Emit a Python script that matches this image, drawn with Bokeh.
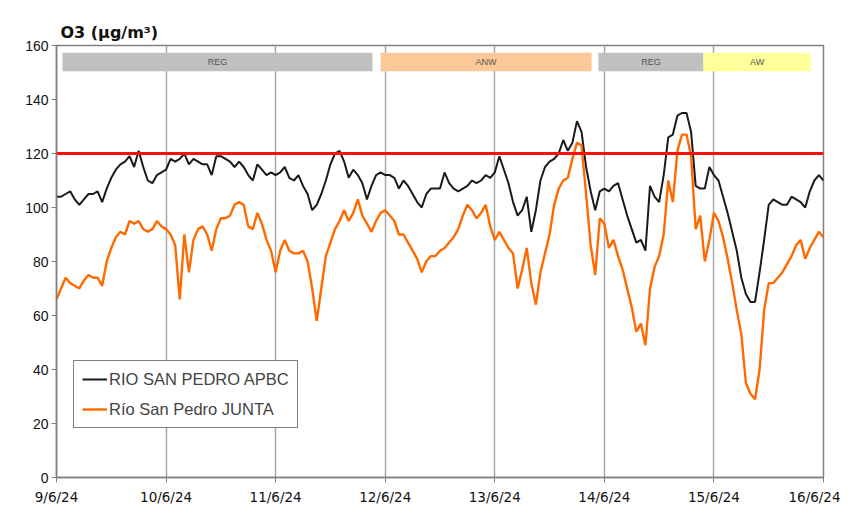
import numpy as np
from bokeh.plotting import figure
from bokeh.models import (Range1d, Span, Legend, LegendItem, FixedTicker, ColumnDataSource)
from bokeh.core.properties import value
from bokeh.embed import file_html
from bokeh.resources import INLINE

# ---------------- data (hourly, 9/6/24 00:00 -> 16/6/24 00:00) ----------------
day_labels = ["9/6/24", "10/6/24", "11/6/24", "12/6/24", "13/6/24", "14/6/24", "15/6/24", "16/6/24"]

apbc = [
    104, 104, 105, 106, 103, 101, 103, 105, 105, 106, 102, 107, 111, 114, 116, 117, 119, 115, 121, 115, 110, 109, 112, 113,
    114, 118, 117, 118, 120, 116, 118, 117, 116, 116, 112, 119, 119, 118, 117, 115, 117, 115, 112, 110, 116, 114, 112, 113,
    112, 113, 115, 111, 110, 112, 108, 105, 99, 101, 105, 110, 116, 120, 121, 117, 111, 114, 112, 109, 103, 108, 112, 113,
    112, 112, 111, 107, 110, 108, 105, 102, 100, 105, 107, 107, 107, 113, 109, 107, 106, 107, 108, 110, 109, 110, 112, 111,
    113, 119, 114, 109, 102, 97, 99, 104, 91, 99, 110, 115, 117, 118, 120, 125, 121, 124, 132, 128, 115, 106, 99, 106,
    107, 106, 108, 109, 103, 97, 92, 87, 88, 84, 108, 104, 102, 112, 126, 127, 134, 135, 135, 128, 108, 107, 107, 115,
    112, 110, 104, 98, 91, 84, 74, 68, 65, 65, 76, 88, 101, 103, 102, 101, 101, 104, 103, 102, 100, 106, 110, 112,
    110,
]

junta = [
    66, 70, 74, 72, 71, 70, 73, 75, 74, 74, 71, 80, 85, 89, 91, 90, 95, 94, 95, 92, 91, 92, 95, 93,
    92, 90, 86, 66, 90, 76, 88, 92, 93, 90, 84, 92, 96, 96, 97, 101, 102, 101, 93, 92, 98, 94, 88, 84,
    76, 84, 88, 84, 83, 83, 84, 80, 70, 58, 70, 82, 87, 92, 95, 99, 95, 98, 103, 97, 94, 91, 95, 98,
    99, 97, 95, 90, 90, 87, 84, 81, 76, 80, 82, 82, 84, 85, 87, 89, 92, 97, 101, 99, 96, 98, 101, 93,
    88, 91, 88, 85, 83, 70, 77, 85, 72, 64, 76, 83, 90, 101, 107, 110, 111, 118, 124, 123, 105, 86, 75, 96,
    94, 85, 88, 82, 77, 70, 63, 54, 57, 49, 70, 78, 82, 90, 110, 102, 121, 127, 127, 119, 92, 97, 80, 88,
    98, 95, 89, 81, 72, 62, 53, 35, 31, 29, 40, 62, 72, 72, 74, 76, 79, 82, 86, 88, 81, 85, 88, 91,
    89,
]

threshold = 120

band_labels = ["REG", "ANW", "REG", "AW"]
band_start = [1.3, 71.0, 118.7, 141.7]     # hours from 9/6/24 00:00
band_end = [69.2, 117.2, 141.7, 165.2]
band_colors = ["#c0c0c0", "#fcc897", "#c0c0c0", "#ffff99"]

series_names = ["RIO SAN PEDRO APBC", "Río San Pedro JUNTA"]

# ---------------- figure ----------------
hours = np.arange(len(apbc))
day_ticks = [24 * i for i in range(len(day_labels))]

p = figure(width=840, height=520, output_backend="svg", toolbar_location=None,
           x_range=Range1d(0, 168), y_range=Range1d(0, 160),
           min_border_left=56, min_border_right=17, min_border_top=45, min_border_bottom=43)
p.background_fill_color = "white"
p.border_fill_color = "white"
p.outline_line_color = "#808080"
p.outline_line_width = 1.5

# title
p.title.text = "O3  (µg/m³)"
p.title.align = "left"
p.title.offset = 4
p.title.standoff = 7
p.title.text_font = "DejaVu Sans"
p.title.text_font_style = "bold"
p.title.text_font_size = "16px"
p.title.text_color = "#111111"

# grids
p.xgrid.ticker = FixedTicker(ticks=day_ticks)
p.xgrid.grid_line_color = "#a8a8a8"
p.xgrid.grid_line_width = 1.5
p.ygrid.grid_line_color = None

# axes
p.xaxis.ticker = FixedTicker(ticks=day_ticks)
p.xaxis.major_label_overrides = {t: lab for t, lab in zip(day_ticks, day_labels)}
p.yaxis.ticker = FixedTicker(ticks=list(range(0, 161, 20)))
for ax in (p.xaxis[0], p.yaxis[0]):
    ax.axis_line_color = "#808080"
    ax.axis_line_width = 1.5
    ax.major_tick_line_color = "#808080"
    ax.major_tick_in = 0
    ax.major_tick_out = 5
    ax.minor_tick_line_color = None
    ax.major_label_text_color = "#111111"
p.xaxis.major_label_text_font = "DejaVu Sans"
p.xaxis.major_label_text_font_size = "13.5px"
p.xaxis.major_label_standoff = 6
p.yaxis.major_label_text_font = "Liberation Sans"
p.yaxis.major_label_text_font_size = "14px"
p.yaxis.major_label_standoff = 3

# period bands
bsrc = ColumnDataSource(dict(left=band_start, right=band_end, color=band_colors, label=band_labels,
                             mid=[(a + b) / 2 for a, b in zip(band_start, band_end)]))
p.quad(left="left", right="right", bottom=150.5, top=157.3, fill_color="color",
       line_color=None, source=bsrc)
p.text(x="mid", y=153.9, text="label", source=bsrc, text_align="center", text_baseline="middle",
       text_font=value("Liberation Sans"), text_font_size="9px", text_color="#555555")

# threshold line
p.add_layout(Span(location=threshold, dimension="width", line_color="#ff1010", line_width=3))

# series
src = ColumnDataSource(dict(x=hours, apbc=apbc, junta=junta))
r1 = p.line("x", "apbc", source=src, line_color="#1a1a1a", line_width=2)
r2 = p.line("x", "junta", source=src, line_color="#ff6a00", line_width=2.4)

legend = Legend(items=[LegendItem(label=series_names[0], renderers=[r1]),
                       LegendItem(label=series_names[1], renderers=[r2])],
                location=(17, 49))
legend.border_line_color = "#000000"
legend.border_line_width = 1
legend.background_fill_alpha = 1
legend.label_text_font = "Liberation Sans"
legend.label_text_font_size = "16.5px"
legend.glyph_width = 25
legend.glyph_height = 20
legend.label_height = 20
legend.label_standoff = 2
legend.padding = 8
legend.spacing = 10
legend.margin = 0
p.add_layout(legend)

open("out.html", "w").write(file_html(p, INLINE))
